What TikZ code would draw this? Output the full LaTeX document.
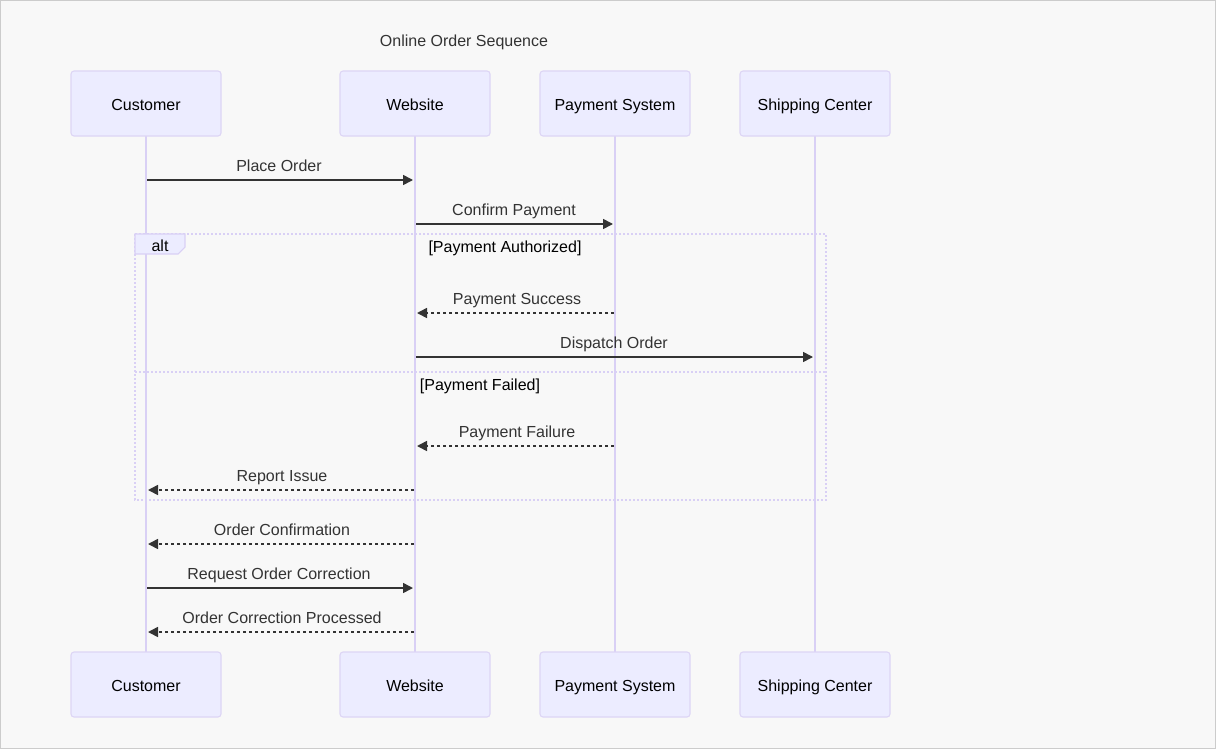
\documentclass[tikz,border=0pt]{standalone}
\usepackage{fontspec}
\setmainfont{Liberation Sans}
\usetikzlibrary{arrows.meta}
\definecolor{bgc}{HTML}{F8F8F8}
\definecolor{framec}{HTML}{CCCCCC}
\definecolor{actfill}{HTML}{ECECFF}
\definecolor{actline}{HTML}{DDD5F5}
\definecolor{lifec}{HTML}{D9D0F5}
\definecolor{msgc}{HTML}{333333}
\tikzset{
  txt/.style={font=\fontsize{12}{14}\selectfont, text height=8.6pt, text depth=2.5pt},
  actor/.style={draw=actline, fill=actfill, line width=0.8pt, rounded corners=2.25pt,
    minimum width=112.5pt, minimum height=48.75pt, inner sep=0pt},
  actortext/.style={txt, text=black, inner sep=0pt, yshift=-2.2pt},
  lifeline/.style={draw=lifec, line width=1.2pt},
  msg/.style={draw=msgc, line width=1.2pt, -{Triangle[length=7.5pt,width=7.5pt]}},
  reply/.style={msg, dash pattern=on 2.25pt off 2.25pt},
  msglabel/.style={txt, text=msgc, inner sep=0pt, yshift=-1.6pt},
  seclabel/.style={txt, text=black, inner sep=0pt, yshift=-1.6pt},
  frame/.style={draw=lifec, line width=1.1pt, dash pattern=on 1.5pt off 1.5pt},
}
\begin{document}
\begin{tikzpicture}[x=0.75pt, y=-0.75pt]
  % canvas
  \path[use as bounding box, fill=bgc, draw=framec, line width=0.75pt] (0.5,0.5) rectangle (1215.5,748.5);

  \node[msglabel] (title) at (464,40) {Online Order Sequence};

  % lifelines
  \foreach \n/\x in {cust/146, web/415, pay/615, ship/815} {
    \coordinate (\n top) at (\x,136);
    \coordinate (\n bot) at (\x,652);
    \draw[lifeline] (\n top) -- (\n bot);
  }

  % participants, top and bottom
  \foreach \n/\x/\t in {cust/146/Customer, web/415/Website, pay/615/Payment System, ship/815/Shipping Center} {
    \node[actor] (\n T) at (\x,103.5) {};
    \node[actortext] (\n Tlbl) at (\n T.center) {\t};
    \node[actor] (\n B) at (\x,684.5) {};
    \node[actortext] (\n Blbl) at (\n B.center) {\t};
  }

  % alt fragment
  \coordinate (altNW) at (135,234);
  \coordinate (altSE) at (826,500);
  \draw[frame] (altNW) rectangle (altSE);
  \coordinate (divL) at (135,372);
  \coordinate (divR) at (826,372);
  \draw[frame] (divL) -- (divR);
  \draw[draw=lifec, fill=actfill, line width=0.8pt] (135,234) -- (185,234) -- (185,247) -- (178,254) -- (135,254) -- cycle;
  \node[seclabel] (altlbl) at (160,245) {alt};
  \node[seclabel] (cond1) at (505,246) {[Payment Authorized]};
  \node[seclabel] (cond2) at (480,384) {[Payment Failed]};

  % message end points
  \coordinate (a1) at (147,180); \coordinate (b1) at (413,180);
  \coordinate (a2) at (416,224); \coordinate (b2) at (613,224);
  \coordinate (a3) at (614,313); \coordinate (b3) at (417,313);
  \coordinate (a4) at (416,357); \coordinate (b4) at (813,357);
  \coordinate (a5) at (614,446); \coordinate (b5) at (417,446);
  \coordinate (a6) at (414,490); \coordinate (b6) at (148,490);
  \coordinate (a7) at (414,544); \coordinate (b7) at (148,544);
  \coordinate (a8) at (147,588); \coordinate (b8) at (413,588);
  \coordinate (a9) at (414,632); \coordinate (b9) at (148,632);

  % messages
  \draw[msg]   (a1) -- (b1);
  \draw[msg]   (a2) -- (b2);
  \draw[reply] (a3) -- (b3);
  \draw[msg]   (a4) -- (b4);
  \draw[reply] (a5) -- (b5);
  \draw[reply] (a6) -- (b6);
  \draw[reply] (a7) -- (b7);
  \draw[msg]   (a8) -- (b8);
  \draw[reply] (a9) -- (b9);

  % message labels
  \node[msglabel] (l1) at (279,165) {Place Order};
  \node[msglabel] (l2) at (514,209) {Confirm Payment};
  \node[msglabel] (l3) at (517,298) {Payment Success};
  \node[msglabel] (l4) at (614,342) {Dispatch Order};
  \node[msglabel] (l5) at (517,431) {Payment Failure};
  \node[msglabel] (l6) at (282,475) {Report Issue};
  \node[msglabel] (l7) at (282,529) {Order Confirmation};
  \node[msglabel] (l8) at (279,573) {Request Order Correction};
  \node[msglabel] (l9) at (282,617) {Order Correction Processed};
\end{tikzpicture}
\end{document}
